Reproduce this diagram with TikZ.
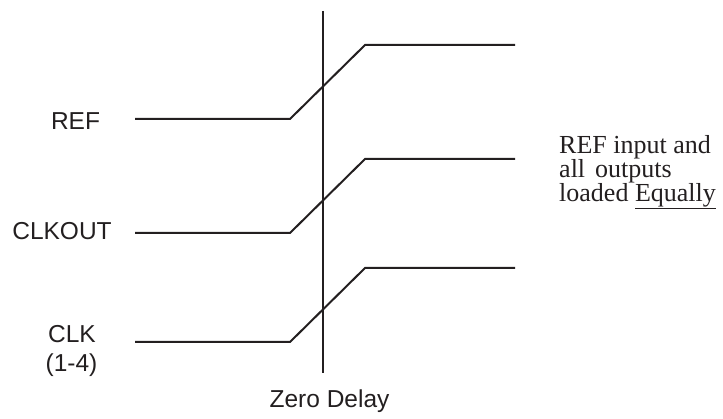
\documentclass[tikz,border=0pt]{standalone}
\usepackage{fontspec}
\setmainfont{Liberation Serif}
\setsansfont{Liberation Sans}
\definecolor{ink}{HTML}{231F20}
\tikzset{
  wave/.style={draw=ink, line width=2pt, line join=miter},
  marker/.style={draw=ink, line width=2pt},
  siglabel/.style={inner sep=0pt, font=\sffamily\fontsize{24.5}{29}\selectfont, text=ink},
  note/.style={inner sep=0pt, font=\rmfamily\fontsize{26}{23.5}\selectfont, text=ink, text height=16pt, text depth=4pt}
}
\begin{document}
\begin{tikzpicture}[x=1pt, y=-1pt]
\useasboundingbox (0,0) rectangle (723,419);
% zero-delay marker
\coordinate (vtop) at (323,11);
\coordinate (vbot) at (323,373);
\draw[marker] (vtop) -- (vbot);
% labels
\node[siglabel, anchor=base] (ref) at (75.5,130) {REF};
\node[siglabel, anchor=base] (clkout) at (62,240) {CLKOUT};
\node[siglabel, anchor=base] (clk) at (72,343) {CLK};
\node[siglabel, anchor=base] (clkn) at (71.5,372) {(1-4)};
\node[siglabel, anchor=base] (zd) at (329.5,408) {Zero Delay};
\node[note, anchor=base west] (n1) at (559,154) {REF input and};
\node[note, anchor=base west] (n2) at (559,177.5) {all\hspace{10pt}outputs};
\node[note, anchor=base west] (n3) at (559,201.5) {loaded \underline{Equally}};
% waveforms
\foreach \lo/\hi/\nm in {119/45/a, 233/159/b, 342/268/c}{
  \coordinate (\nm0) at (135,\lo);
  \coordinate (\nm1) at (290,\lo);
  \coordinate (\nm2) at (365,\hi);
  \coordinate (\nm3) at (515,\hi);
  \draw[wave] (\nm0) -- (\nm1) -- (\nm2) -- (\nm3);
}
\end{tikzpicture}
\end{document}
